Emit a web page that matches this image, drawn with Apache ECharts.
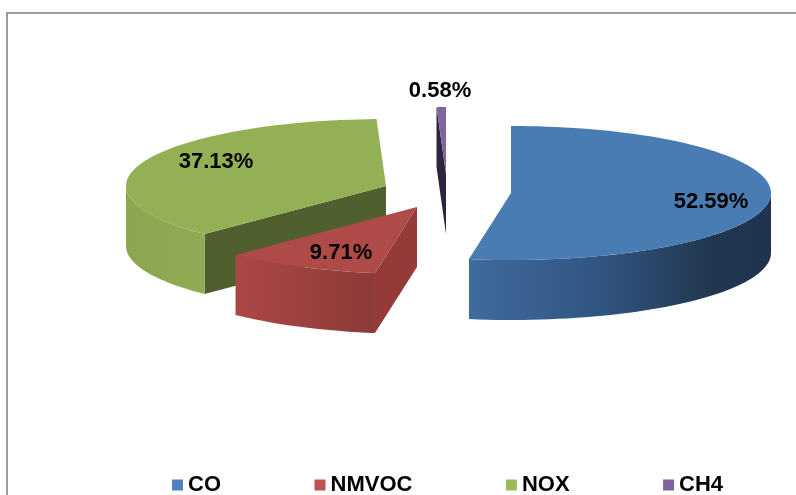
<!DOCTYPE html>
<html><head><meta charset="utf-8">
<style>html,body{margin:0;padding:0;background:#fff}#c{width:796px;height:495px}</style>
<script src="https://cdn.jsdelivr.net/npm/echarts@6/dist/echarts.min.js"></script>
</head><body><div id="c"></div>
<script>
const categories = ['CO', 'NMVOC', 'NOX', 'CH4'];
const shares = [52.59, 9.71, 37.13, 0.58];

// Drawing style, kept apart from the data
const topColors = ['#4a7cb4', '#ae4a48', '#94b055', '#8064a2'];
const legendColors = ['#4f81bd', '#c0504d', '#9bbb59', '#8064a2'];
const faceColors = ['#2b4a70', '#943b39', '#4f5f2d', '#2e2440'];
const sideStops = [
  [[0, '#3f6b9e'], [0.45, '#315480'], [0.8, '#22364f'], [1, '#203350']],
  [[0, '#ab4846'], [1, '#8d3a38']],
  [[0, '#8aa64e'], [1, '#90ab53']],
  [[0, '#5d4780'], [1, '#5d4780']]
];
const centers = [[511, 193], [417, 207], [386, 186], [446, 174]];
const labelOffsets = [[200, 9], [-76, 46], [-170, -24], [-6, -83]];
const drawOrder = [4, 2, 1, 3];
const RX = 260, RY = 67, DEPTH = 60;
const RAD = Math.PI / 180;

const total = shares.reduce((a, b) => a + b, 0);
const startAngles = shares.map((_, i) =>
  shares.slice(0, i).reduce((a, b) => a + b, 0) / total * 360);

function renderSlice(i) {
  return function (params, api) {
    const value = api.value(0);
    const a0 = startAngles[i], a1 = a0 + value / total * 360;
    const [cx, cy] = centers[i];
    const pt = (a, dy) => [cx + RX * Math.sin(a * RAD), cy - RY * Math.cos(a * RAD) + (dy || 0)];
    const arc = (from, to, dy) => {
      const n = Math.max(2, Math.ceil(Math.abs(to - from) / 2));
      const out = [];
      for (let k = 0; k <= n; k++) out.push(pt(from + (to - from) * k / n, dy));
      return out;
    };
    const children = [];
    // cut faces that turn towards the viewer
    [a0, a1].forEach((a, idx) => {
      const p = pt(a);
      const ex = p[0] - cx;
      const ny = idx === 0 ? -ex : ex;
      if (ny > 0.5) {
        children.push({
          type: 'polygon',
          shape: { points: [[cx, cy], p, [p[0], p[1] + DEPTH], [cx, cy + DEPTH]] },
          style: { fill: faceColors[i] }
        });
      }
    });
    // outer wall on the near half of the ellipse
    const s0 = Math.max(a0, 90), s1 = Math.min(a1, 270);
    if (s1 > s0) {
      const upper = arc(s0, s1, 0);
      const lower = arc(s1, s0, DEPTH);
      const xs = upper.map(p => p[0]);
      const minX = Math.min(...xs), maxX = Math.max(...xs);
      children.push({
        type: 'polygon',
        shape: { points: upper.concat(lower) },
        style: {
          fill: {
            type: 'linear', global: true, x: minX, y: 0, x2: maxX, y2: 0,
            colorStops: sideStops[i].map(s => ({ offset: s[0], color: s[1] }))
          }
        }
      });
    }
    // top face
    children.push({
      type: 'polygon',
      shape: { points: [[cx, cy]].concat(arc(a0, a1, 0)) },
      style: { fill: topColors[i] }
    });
    // label
    children.push({
      type: 'text',
      x: cx + labelOffsets[i][0], y: cy + labelOffsets[i][1],
      style: {
        text: value.toFixed(2) + '%', fill: '#000',
        font: 'bold 22px "Liberation Sans", Arial, sans-serif',
        align: 'center', verticalAlign: 'middle'
      }
    });
    return { type: 'group', children };
  };
}

const chart = echarts.init(document.getElementById('c'), null, { renderer: 'canvas' });
chart.setOption({
  animation: false,
  backgroundColor: '#fff',
  legend: {
    data: categories,
    left: 172, top: 474, padding: 0,
    itemWidth: 11, itemHeight: 11, itemGap: 93.5,
    icon: 'rect',
    textStyle: { color: '#000', fontSize: 22, fontWeight: 'bold', fontFamily: '"Liberation Sans", Arial, sans-serif' }
  },
  graphic: [
    { type: 'polyline', silent: true,
      shape: { points: [[7, 495], [7, 13], [796, 13]] },
      style: { stroke: '#9a9a9a', lineWidth: 2, fill: null } }
  ],
  series: categories.map((name, i) => ({
    type: 'custom',
    name,
    coordinateSystem: 'none',
    z: drawOrder[i],
    itemStyle: { color: legendColors[i] },
    renderItem: renderSlice(i),
    data: [[shares[i]]]
  }))
});
</script></body></html>
